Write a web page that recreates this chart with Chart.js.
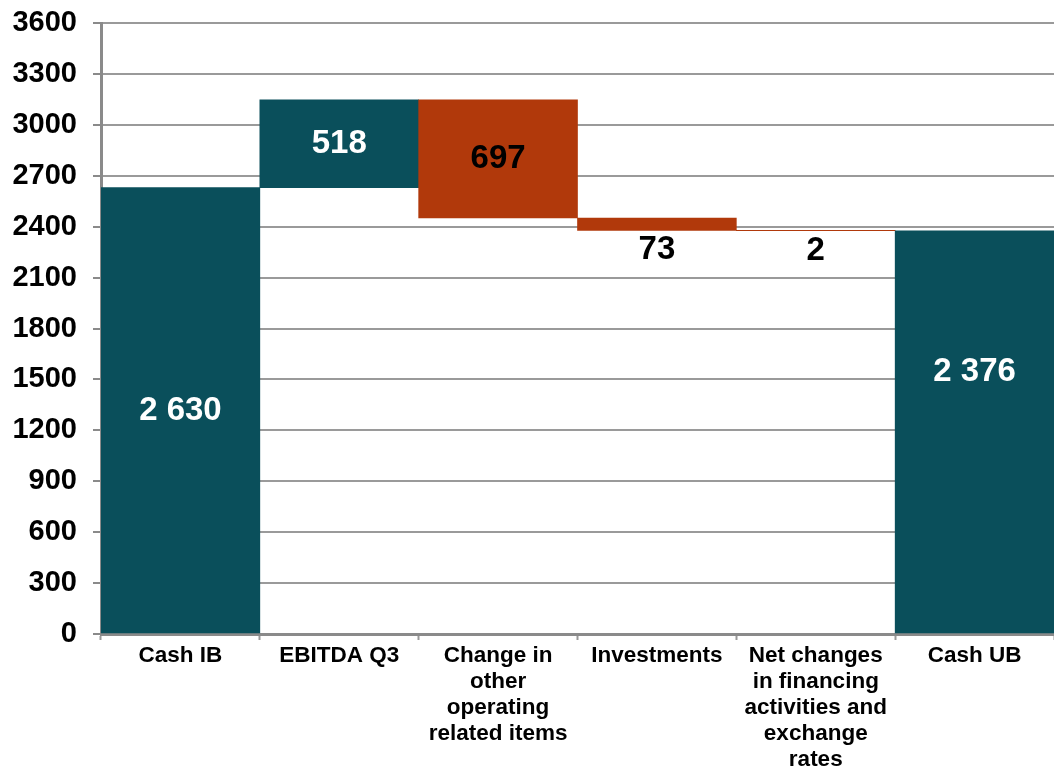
<!DOCTYPE html>
<html>
<head>
<meta charset="utf-8">
<script src="https://cdn.jsdelivr.net/npm/chart.js@4/dist/chart.umd.min.js"></script>
<style>
  body { margin: 0; background: #fff; }
  #wrap { width: 1054px; height: 768px; }
</style>
</head>
<body>
<div id="wrap"><canvas id="graph" width="1054" height="768"></canvas></div>
<script>
// categories and values
const categories = [
  'Cash IB',
  'EBITDA Q3',
  ['Change in', 'other', 'operating', 'related items'],
  'Investments',
  ['Net changes', 'in financing', 'activities and', 'exchange', 'rates'],
  'Cash UB'
];
const changes = [2630, 518, -697, -73, -2, 2376];
const isTotal = [true, false, false, false, false, true];
const valueLabels = ['2 630', '518', '697', '73', '2', '2 376'];
const yTicks = [0, 300, 600, 900, 1200, 1500, 1800, 2100, 2400, 2700, 3000, 3300, 3600];

const teal = '#0a4f5b';
const orange = '#b1390b';

// build floating bars for the waterfall
let running = 0;
const ranges = changes.map((v, i) => {
  if (isTotal[i]) { running = v; return [0, v]; }
  const start = running;
  running = running + v;
  return [start, running];
});
const colors = changes.map((v, i) => (isTotal[i] || v > 0) ? teal : orange);

const labelPlugin = {
  id: 'valueLabels',
  afterDatasetsDraw(chart) {
    const ctx = chart.ctx;
    const meta = chart.getDatasetMeta(0);
    const y = chart.scales.y;
    ctx.save();
    ctx.font = 'bold 33px "Liberation Sans", Arial, sans-serif';
    ctx.textAlign = 'center';
    ctx.textBaseline = 'middle';
    meta.data.forEach((bar, i) => {
      const lo = Math.min(ranges[i][0], ranges[i][1]);
      const hi = Math.max(ranges[i][0], ranges[i][1]);
      let ty, col;
      if (hi - lo < 150) {
        // thin bars: label under the bar
        ty = y.getPixelForValue(lo) + 20;
        col = '#000';
      } else if (i === 5) {
        ty = y.getPixelForValue(lo + (hi - lo) * 0.65);
        col = '#fff';
      } else {
        ty = y.getPixelForValue((lo + hi) / 2);
        col = colors[i] === teal ? '#fff' : '#000';
      }
      ctx.fillStyle = col;
      ctx.fillText(valueLabels[i], bar.x, ty);
    });
    ctx.restore();
  }
};

var ctx = document.getElementById('graph');

const config = {
  type: 'bar',
  data: {
    labels: categories,
    datasets: [{
      data: ranges,
      backgroundColor: colors,
      borderWidth: 0,
      barPercentage: 1,
      categoryPercentage: 1
    }]
  },
  options: {
    responsive: false,
    animation: false,
    layout: { padding: { top: 23, right: 0, left: 0, bottom: 0 } },
    plugins: {
      legend: { display: false },
      tooltip: { enabled: false }
    },
    scales: {
      x: {
        grid: {
          display: true,
          drawOnChartArea: false,
          tickLength: 6,
          tickColor: '#999',
          tickWidth: 2
        },
        border: { color: '#8a8a8a', width: 3 },
        ticks: {
          color: '#000',
          padding: 3,
          maxRotation: 0,
          autoSkip: false,
          font: { family: '"Liberation Sans", Arial, sans-serif', size: 22.5, weight: 'bold', lineHeight: 1.15 }
        },
        afterFit(scale) { scale.height = 134; }
      },
      y: {
        min: 0,
        max: 3600,
        afterBuildTicks(scale) { scale.ticks = yTicks.map(v => ({ value: v })); },
        grid: {
          color: '#9a9a9a',
          lineWidth: 2,
          tickLength: 8,
          tickColor: '#8a8a8a'
        },
        border: { color: '#8a8a8a', width: 3 },
        ticks: {
          color: '#000',
          padding: 16,
          callback: (v) => String(v),
          font: { family: '"Liberation Sans", Arial, sans-serif', size: 29, weight: 'bold' }
        },
        afterFit(scale) {
          scale.width = 101;
          scale.paddingTop = 0;
          scale.paddingBottom = 0;
        }
      }
    }
  },
  plugins: [labelPlugin]
};

var myChart = new Chart(ctx, config);
</script>
</body>
</html>
